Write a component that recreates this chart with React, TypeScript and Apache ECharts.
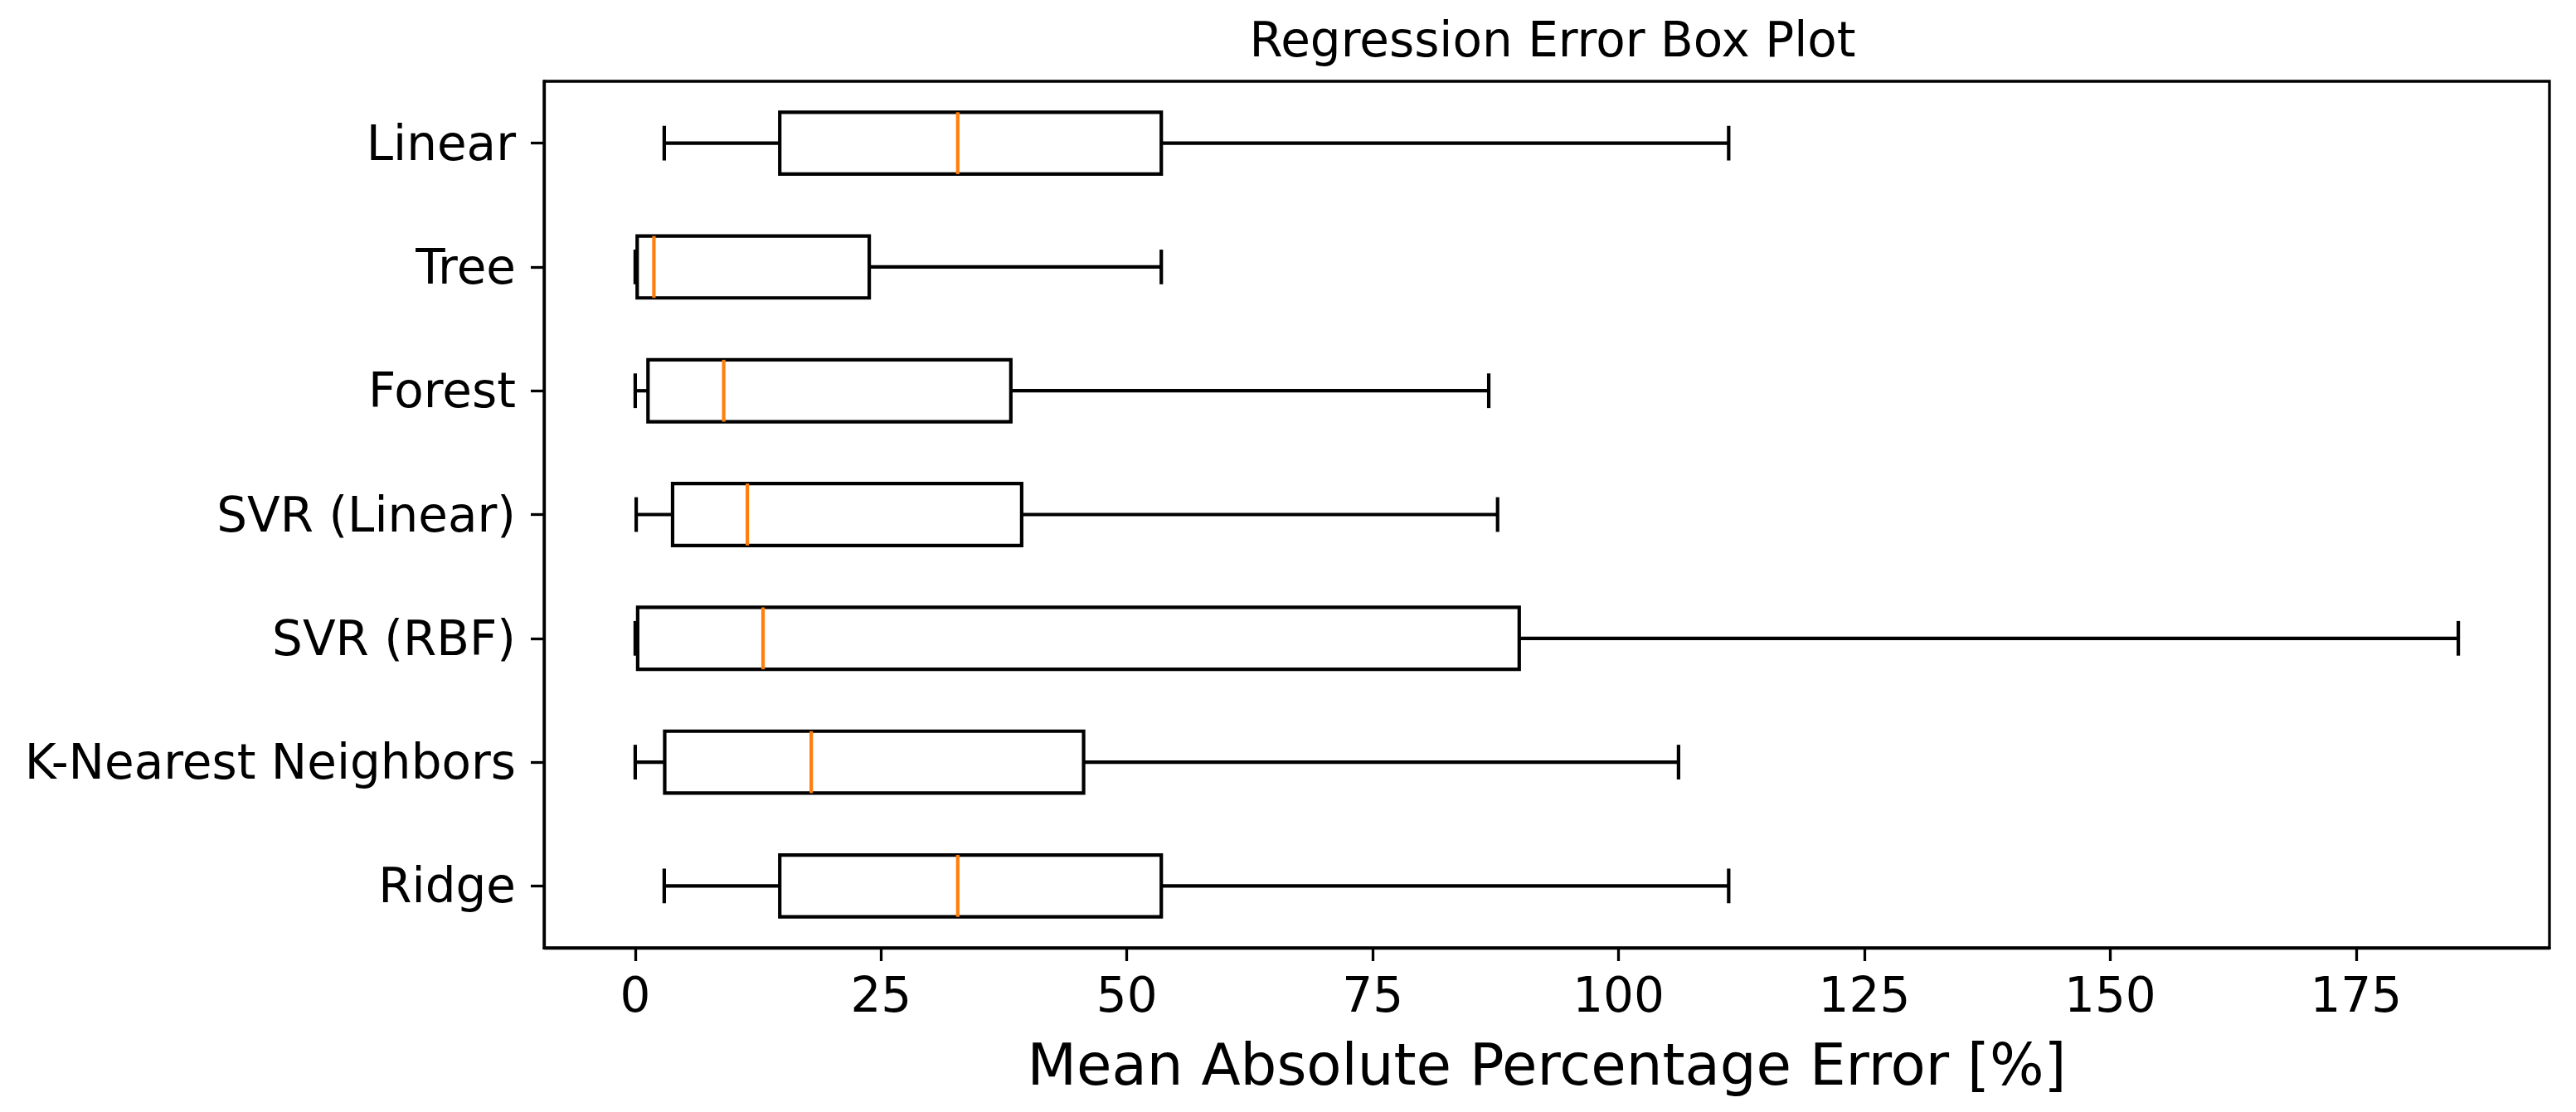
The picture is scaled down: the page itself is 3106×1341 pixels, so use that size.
import React, { useEffect, useRef } from "react";
import * as echarts from "echarts";

const models = ["Linear", "Tree", "Forest", "SVR (Linear)", "SVR (RBF)", "K-Nearest Neighbors", "Ridge"];
const whiskerLow = [2.95, 0.0, 0.0, 0.1, 0.0, 0.0, 2.95];
const quartile1 = [14.7, 0.2, 1.3, 3.8, 0.25, 3.0, 14.7];
const medians = [32.8, 1.9, 9.0, 11.4, 13.0, 17.9, 32.8];
const quartile3 = [53.5, 23.8, 38.2, 39.3, 89.9, 45.6, 53.5];
const whiskerHigh = [111.2, 53.5, 86.8, 87.7, 185.4, 106.1, 111.2];
const xTicks = [0, 25, 50, 75, 100, 125, 150, 175];

const FONT = "DejaVu Sans";

export default function App() {
  const ref = useRef<HTMLDivElement>(null);

  useEffect(() => {
    if (!ref.current) return;
    const chart = echarts.init(ref.current, undefined, { renderer: "svg" });

    const dataMin = Math.min(...whiskerLow);
    const dataMax = Math.max(...whiskerHigh);
    const span = dataMax - dataMin;
    const xMin = dataMin - 0.05 * span;
    const xMax = dataMax + 0.05 * span;

    const data = models.map((_, i) => [
      i,
      whiskerLow[i],
      quartile1[i],
      medians[i],
      quartile3[i],
      whiskerHigh[i],
    ]);

    const LW = 4.2;

    chart.setOption({
      animation: false,
      backgroundColor: "#ffffff",
      title: {
        text: "Regression Error Box Plot",
        left: 1867,
        textAlign: "center",
        top: 14,
        textStyle: { fontFamily: FONT, fontSize: 58, fontWeight: "normal", color: "#000" },
      },
      grid: {
        left: 656,
        right: 32,
        top: 98,
        bottom: 198,
        show: true,
        borderColor: "#000",
        borderWidth: 3.3,
        backgroundColor: "transparent",
        containLabel: false,
      },
      xAxis: {
        type: "value",
        position: "bottom",
        min: xMin,
        max: xMax,
        splitLine: { show: false },
        axisLine: { show: true, onZero: false, lineStyle: { color: "#000", width: 3.3 } },
        axisTick: {
          show: true,
          length: 16,
          customValues: xTicks,
          lineStyle: { color: "#000", width: 3.3 },
        },
        axisLabel: {
          customValues: xTicks,
          margin: 28,
          fontFamily: FONT,
          fontSize: 58,
          color: "#000",
        },
        name: "Mean Absolute Percentage Error [%]",
        nameLocation: "middle",
        nameGap: 106,
        nameTextStyle: { fontFamily: FONT, fontSize: 69, color: "#000" },
      },
      yAxis: {
        type: "category",
        position: "left",
        data: models,
        inverse: true,
        axisLine: { show: true, onZero: false, lineStyle: { color: "#000", width: 3.3 } },
        splitLine: { show: false },
        axisTick: {
          show: true,
          alignWithLabel: true,
          length: 16,
          lineStyle: { color: "#000", width: 3.3 },
        },
        axisLabel: {
          margin: 34,
          fontFamily: FONT,
          fontSize: 58,
          color: "#000",
        },
      },
      series: [
        {
          type: "custom",
          data,
          encode: { x: [1, 2, 3, 4, 5], y: 0 },
          renderItem: (params: any, api: any) => {
            const cat = api.value(0);
            const lo = api.coord([api.value(1), cat]);
            const q1 = api.coord([api.value(2), cat]);
            const med = api.coord([api.value(3), cat]);
            const q3 = api.coord([api.value(4), cat]);
            const hi = api.coord([api.value(5), cat]);
            const band = api.size([0, 1])[1];
            const boxH = band * 0.5;
            const capH = band * 0.28;
            const y = lo[1];
            const black = { stroke: "#000", lineWidth: LW, fill: "none" };
            return {
              type: "group",
              children: [
                { type: "line", shape: { x1: lo[0], y1: y, x2: q1[0], y2: y }, style: black },
                { type: "line", shape: { x1: q3[0], y1: y, x2: hi[0], y2: y }, style: black },
                { type: "line", shape: { x1: lo[0], y1: y - capH / 2, x2: lo[0], y2: y + capH / 2 }, style: black },
                { type: "line", shape: { x1: hi[0], y1: y - capH / 2, x2: hi[0], y2: y + capH / 2 }, style: black },
                {
                  type: "rect",
                  shape: { x: q1[0], y: y - boxH / 2, width: q3[0] - q1[0], height: boxH },
                  style: { stroke: "#000", lineWidth: LW, fill: "none" },
                },
                {
                  type: "line",
                  shape: { x1: med[0], y1: y - boxH / 2, x2: med[0], y2: y + boxH / 2 },
                  style: { stroke: "#ff7f0e", lineWidth: LW },
                },
              ],
            };
          },
        },
      ],
    });

    return () => chart.dispose();
  }, []);

  return (
    <div
      ref={ref}
      style={{ position: "absolute", left: 0, top: 0, width: 3106, height: 1341, background: "#fff" }}
    />
  );
}
